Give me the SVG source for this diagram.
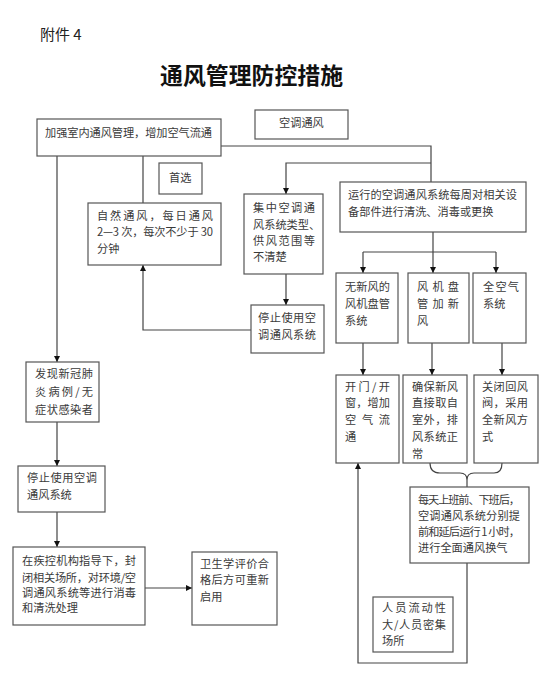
<svg xmlns="http://www.w3.org/2000/svg" width="550" height="680" viewBox="0 0 550 680">
<style>
.box{fill:#fff;stroke:#555;stroke-width:1.2}
.t{font-family:"Noto Sans CJK SC","Liberation Sans",sans-serif;font-size:11.2px;fill:#3a3a3a}
.c{fill:none;stroke:#444;stroke-width:1.2}
</style>
<defs>
<marker id="ah" viewBox="0 0 10 10" refX="10" refY="5" markerWidth="6" markerHeight="6" orient="auto" markerUnits="userSpaceOnUse">
<path d="M0,0 L10,5 L0,10 z" fill="#111"/>
</marker>
</defs>
<rect width="550" height="680" fill="#fff"/>
<text x="40" y="40" font-family="'Noto Sans CJK SC','Liberation Sans',sans-serif" font-size="15" fill="#222">附件 4</text>
<text x="160" y="84" font-family="'Noto Sans CJK SC',sans-serif" font-size="23" font-weight="700" fill="#111" textLength="183" lengthAdjust="spacingAndGlyphs">通风管理防控措施</text>

<g id="connectors">
<path class="c" d="M221,146 H431 V182"/>
<path class="c" d="M431,163 H286 V194" marker-end="url(#ah)"/>
<path class="c" d="M143,156 V203"/>
<path class="c" d="M57,156 V362" marker-end="url(#ah)"/>
<path class="c" d="M286,274 V305" marker-end="url(#ah)"/>
<path class="c" d="M251,330 H143 V265" marker-end="url(#ah)"/>
<path class="c" d="M433,232 V273" marker-end="url(#ah)"/>
<path class="c" d="M363,252 H496"/>
<path class="c" d="M363,252 V273" marker-end="url(#ah)"/>
<path class="c" d="M496,252 V273" marker-end="url(#ah)"/>
<path class="c" d="M363,343 V375" marker-end="url(#ah)"/>
<path class="c" d="M432,343 V375" marker-end="url(#ah)"/>
<path class="c" d="M502,343 V375" marker-end="url(#ah)"/>
<path class="c" d="M430,463 Q430,473 440,473 H460 Q467,473 467,480 Q467,473 474,473 H494 Q502,473 502,463"/>
<path class="c" d="M467,480 V487"/>
<path class="c" d="M467,563 V663 H358 V463" marker-end="url(#ah)"/>
<path class="c" d="M57,422 V466" marker-end="url(#ah)"/>
<path class="c" d="M57,512 V547" marker-end="url(#ah)"/>
<path class="c" d="M145,588 H192" marker-end="url(#ah)"/>
</g>

<g id="n-strengthen">
<rect class="box" x="37" y="119" width="184" height="37"/>
<text class="t" x="45" y="137" textLength="167" lengthAdjust="spacing">加强室内通风管理，增加空气流通</text>
</g>
<g id="n-ac">
<rect class="box" x="255" y="110" width="93" height="29"/>
<text class="t" x="279" y="127">空调通风</text>
</g>
<g id="n-prefer">
<rect class="box" x="159" y="163" width="43" height="31"/>
<text class="t" x="169" y="182">首选</text>
</g>
<g id="n-natural">
<rect class="box" x="88" y="203" width="133" height="62"/>
<text class="t" x="97" y="220" textLength="116" lengthAdjust="spacing">自然通风，每日通风</text>
<text class="t" x="97" y="236" textLength="116" lengthAdjust="spacing">2—3 次，每次不少于 30</text>
<text class="t" x="97" y="253">分钟</text>
</g>
<g id="n-central">
<rect class="box" x="244" y="194" width="79" height="80"/>
<text class="t" x="253" y="212" textLength="62" lengthAdjust="spacing">集中空调通</text>
<text class="t" x="253" y="229">风系统类型、</text>
<text class="t" x="253" y="245" textLength="62" lengthAdjust="spacing">供风范围等</text>
<text class="t" x="253" y="261">不清楚</text>
</g>
<g id="n-stop1">
<rect class="box" x="251" y="305" width="73" height="48"/>
<text class="t" x="258" y="322" textLength="58" lengthAdjust="spacing">停止使用空</text>
<text class="t" x="258" y="339" textLength="58" lengthAdjust="spacing">调通风系统</text>
</g>
<g id="n-weekly">
<rect class="box" x="340" y="182" width="186" height="50"/>
<text class="t" x="348" y="199" textLength="169" lengthAdjust="spacing">运行的空调通风系统每周对相关设</text>
<text class="t" x="348" y="216">备部件进行清洗、消毒或更换</text>
</g>
<g id="n-fancoil">
<rect class="box" x="336" y="273" width="62" height="70"/>
<text class="t" x="345" y="291" textLength="45" lengthAdjust="spacing">无新风的</text>
<text class="t" x="345" y="308" textLength="45" lengthAdjust="spacing">风机盘管</text>
<text class="t" x="345" y="325">系统</text>
</g>
<g id="n-fancoil-fresh">
<rect class="box" x="408" y="273" width="61" height="70"/>
<text class="t" x="417" y="291" textLength="42" lengthAdjust="spacing">风机盘</text>
<text class="t" x="417" y="308" textLength="42" lengthAdjust="spacing">管加新</text>
<text class="t" x="417" y="325">风</text>
</g>
<g id="n-allair">
<rect class="box" x="473" y="273" width="53" height="70"/>
<text class="t" x="483" y="291" textLength="36" lengthAdjust="spacing">全空气</text>
<text class="t" x="483" y="308">系统</text>
</g>
<g id="n-open">
<rect class="box" x="336" y="375" width="63" height="88"/>
<text class="t" x="345" y="391" textLength="45" lengthAdjust="spacing">开门/开</text>
<text class="t" x="345" y="407" textLength="45" lengthAdjust="spacing">窗，增加</text>
<text class="t" x="345" y="424" textLength="45" lengthAdjust="spacing">空气流</text>
<text class="t" x="345" y="441">通</text>
</g>
<g id="n-ensure">
<rect class="box" x="403" y="375" width="64" height="88"/>
<text class="t" x="412" y="391" textLength="46" lengthAdjust="spacing">确保新风</text>
<text class="t" x="412" y="407" textLength="46" lengthAdjust="spacing">直接取自</text>
<text class="t" x="412" y="424" textLength="46" lengthAdjust="spacing">室外，排</text>
<text class="t" x="412" y="441" textLength="46" lengthAdjust="spacing">风系统正</text>
<text class="t" x="412" y="458">常</text>
</g>
<g id="n-close">
<rect class="box" x="474" y="375" width="64" height="88"/>
<text class="t" x="482" y="391" textLength="46" lengthAdjust="spacing">关闭回风</text>
<text class="t" x="482" y="407" textLength="46" lengthAdjust="spacing">阀，采用</text>
<text class="t" x="482" y="424" textLength="46" lengthAdjust="spacing">全新风方</text>
<text class="t" x="482" y="441">式</text>
</g>
<g id="n-daily">
<rect class="box" x="410" y="487" width="119" height="76"/>
<text class="t" x="418" y="504" textLength="102" lengthAdjust="spacing">每天上班前、下班后，</text>
<text class="t" x="418" y="520" textLength="102" lengthAdjust="spacing">空调通风系统分别提</text>
<text class="t" x="418" y="536" textLength="102" lengthAdjust="spacing">前和延后运行 1 小时，</text>
<text class="t" x="418" y="552">进行全面通风换气</text>
</g>
<g id="n-crowd">
<rect class="box" x="373" y="597" width="80" height="55"/>
<text class="t" x="382" y="612" textLength="64" lengthAdjust="spacing">人员流动性</text>
<text class="t" x="382" y="629" textLength="64" lengthAdjust="spacing">大/人员密集</text>
<text class="t" x="382" y="645">场所</text>
</g>
<g id="n-found">
<rect class="box" x="26" y="362" width="73" height="60"/>
<text class="t" x="35" y="378" textLength="58" lengthAdjust="spacing">发现新冠肺</text>
<text class="t" x="35" y="396" textLength="58" lengthAdjust="spacing">炎病例/无</text>
<text class="t" x="35" y="414" textLength="58" lengthAdjust="spacing">症状感染者</text>
</g>
<g id="n-stop2">
<rect class="box" x="18" y="466" width="87" height="46"/>
<text class="t" x="27" y="482" textLength="70" lengthAdjust="spacing">停止使用空调</text>
<text class="t" x="27" y="499">通风系统</text>
</g>
<g id="n-disinfect">
<rect class="box" x="13" y="547" width="132" height="78"/>
<text class="t" x="22" y="565" textLength="114" lengthAdjust="spacing">在疾控机构指导下，封</text>
<text class="t" x="22" y="582" textLength="114" lengthAdjust="spacing">闭相关场所，对环境/空</text>
<text class="t" x="22" y="597" textLength="114" lengthAdjust="spacing">调通风系统等进行消毒</text>
<text class="t" x="22" y="612">和清洗处理</text>
</g>
<g id="n-evaluate">
<rect class="box" x="192" y="552" width="85" height="73"/>
<text class="t" x="200" y="568" textLength="69" lengthAdjust="spacing">卫生学评价合</text>
<text class="t" x="200" y="584" textLength="69" lengthAdjust="spacing">格后方可重新</text>
<text class="t" x="200" y="601">启用</text>
</g>
</svg>
